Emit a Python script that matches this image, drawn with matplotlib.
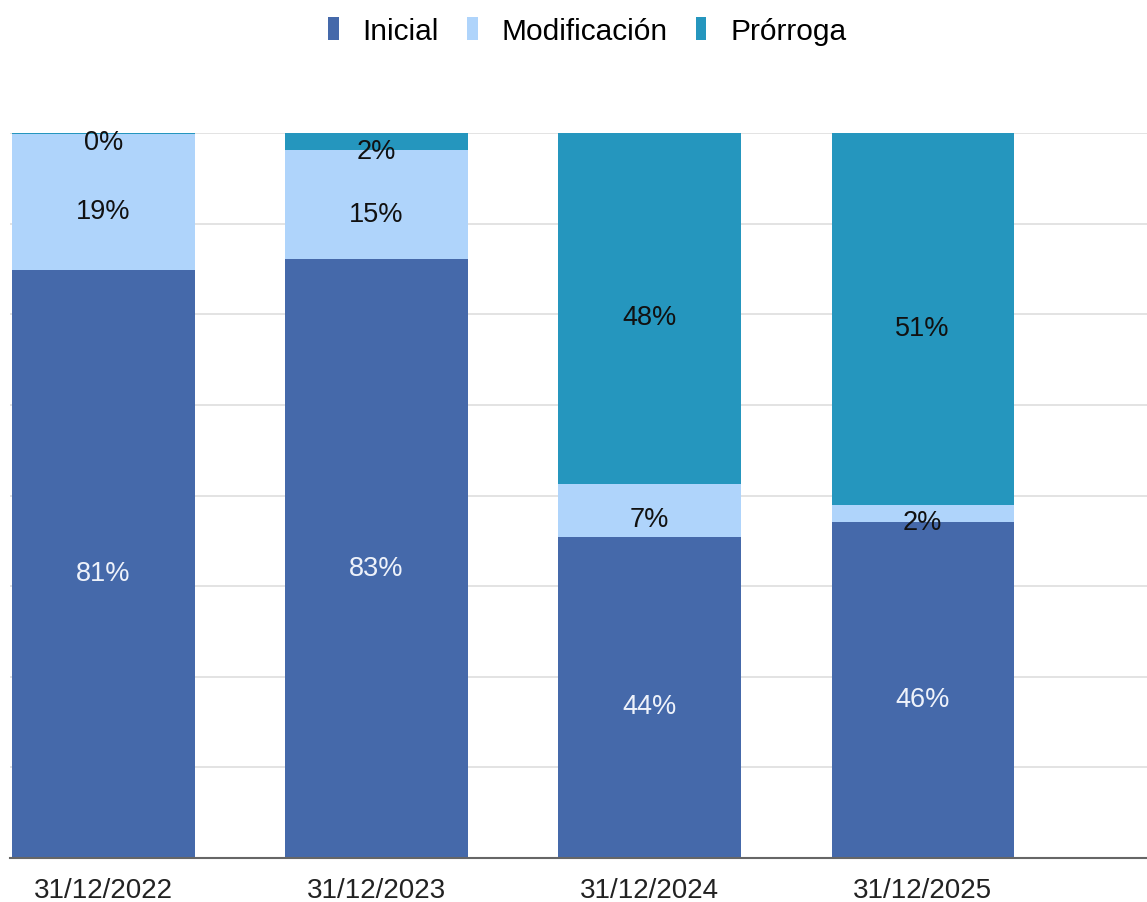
import numpy as np
import matplotlib.pyplot as plt

plt.rcParams['font.family'] = ['Liberation Sans', 'DejaVu Sans']

fechas = ['31/12/2022', '31/12/2023', '31/12/2024', '31/12/2025']
inicial = [81.1, 82.6, 44.3, 46.4]
modificacion = [18.8, 15.0, 7.3, 2.3]
prorroga = [0.1, 2.4, 48.4, 51.3]

series = ['Inicial', 'Modificación', 'Prórroga']
colores = ['#4569aa', '#afd4fb', '#2596be']
col_texto = ['#eef2fa', '#111111', '#111111']

fig = plt.figure(figsize=(11.47, 9.03), dpi=100)
ax = fig.add_axes([0.0087, 0.0487, 0.9913, 0.8029])

x = np.arange(len(fechas))
ancho = 0.667
abajo = np.zeros(len(fechas))
handles = []
for nombre, vals, c, ct in zip(series, [inicial, modificacion, prorroga], colores, col_texto):
    vals = np.array(vals)
    b = ax.bar(x, vals, ancho, bottom=abajo, color=c, label=nombre, zorder=2, linewidth=0)
    handles.append(b)
    for xi, v, b0 in zip(x, vals, abajo):
        etiqueta = '%d%%' % int(v + 0.5)
        ax.annotate(etiqueta, (xi, b0 + v / 2), xytext=(0, -6.5), textcoords='offset points',
                    ha='center', va='center', fontsize=19.5, color=ct, zorder=3)
    abajo += vals

ax.set_xlim(-0.3425, 3.822)
ax.set_ylim(0, 100)
ax.set_yticks(np.arange(0, 101, 12.5))
ax.yaxis.grid(True, color='#e0e0e0', linewidth=1.3, zorder=0)
ax.set_axisbelow(True)
ax.tick_params(axis='y', left=False, labelleft=False)
ax.set_xticks(x)
ax.set_xticklabels(fechas, fontsize=20, color='#222222')
ax.tick_params(axis='x', length=0, pad=14)
for s in ['top', 'right', 'left']:
    ax.spines[s].set_visible(False)
ax.spines['bottom'].set_color('#666666')
ax.spines['bottom'].set_linewidth(1.5)
ax.spines['bottom'].set_zorder(4)

fig.legend(handles=handles, labels=series, loc='center', bbox_to_anchor=(0.512, 0.965),
           ncol=3, frameon=False, fontsize=21.5, handlelength=0.35, handleheight=0.8,
           handletextpad=0.8, columnspacing=0.95)

fig.savefig('out.png', dpi=100)
